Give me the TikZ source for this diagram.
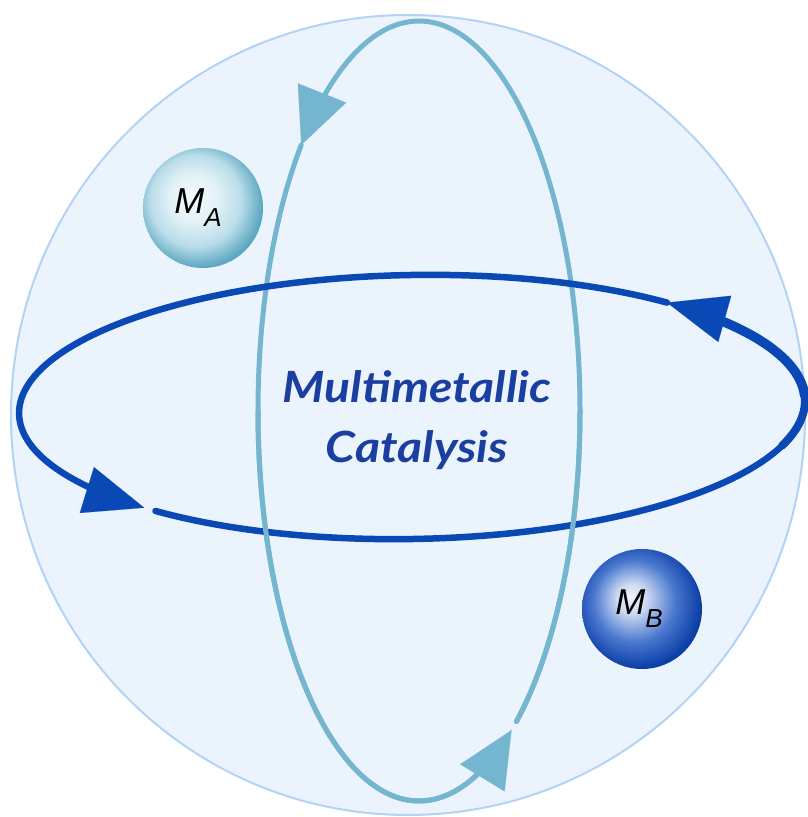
\documentclass[tikz,border=0pt]{standalone}
\usepackage{fontspec}
\usetikzlibrary{arrows.meta}
\newfontfamily\titlefont[FakeStretch=1.12]{Lato}
\newfontfamily\metalfont{Liberation Sans}

\definecolor{spherefill}{HTML}{EBF4FD}
\definecolor{sphereedge}{HTML}{B2D3F5}
\definecolor{ringdark}{HTML}{0A48B6}
\definecolor{ringlight}{HTML}{74B6CF}
\definecolor{textblue}{HTML}{1B3FA0}
\definecolor{acore}{HTML}{F4FAFC}
\definecolor{amid}{HTML}{B9DDE9}
\definecolor{arim}{HTML}{5DA7C1}
\definecolor{bcore}{HTML}{F0F4FB}
\definecolor{bmid}{HTML}{4A78CF}
\definecolor{brim}{HTML}{0B3EA6}

\pgfdeclareradialshading{ballA}{\pgfpoint{-5bp}{5bp}}{color(0bp)=(acore); color(10bp)=(acore!70!amid); color(19bp)=(amid); color(27bp)=(arim); color(50bp)=(arim)}
\pgfdeclareradialshading{ballB}{\pgfpoint{-5bp}{5bp}}{color(0bp)=(bcore); color(6bp)=(bcore!80!bmid); color(17bp)=(bmid); color(27bp)=(brim); color(50bp)=(brim)}

\begin{document}
\begin{tikzpicture}[x=1pt, y=1pt, line cap=round,
    darkring/.style={draw=ringdark, line width=6.5pt},
    lightring/.style={draw=ringlight, line width=5pt},
    darktip/.style={draw=ringdark, line width=0.1pt, -{Triangle[length=60pt, width=48pt]}},
    lighttip/.style={draw=ringlight, line width=0.1pt, -{Triangle[length=56pt, width=52pt]}},
    metal/.style={circle, minimum size=120pt, inner sep=0pt, font=\metalfont\itshape\fontsize{36}{36}\selectfont}]
    \useasboundingbox (0,0) rectangle (807,817);
    \fill[white] (0,0) rectangle (807,817);
    % the sphere
    \draw[draw=sphereedge, line width=2pt, fill=spherefill] (408,402) ellipse [x radius=397, y radius=400];
    \coordinate (hc) at (412,410);
    \coordinate (vc) at (419,406);
    % vertical ring, part behind
    \draw[lightring] (vc) ++(307.2:161pt and 390pt) arc[start angle=307.2, end angle=494, x radius=161pt, y radius=390pt];
    \draw[lightring] (vc) ++(137:161pt and 390pt) arc[start angle=137, end angle=302, x radius=161pt, y radius=390pt];
    % horizontal ring
    \begin{scope}[rotate around={1:(hc)}]
        \draw[darkring] (hc) ++(228.9:393pt and 132pt) arc[start angle=228.9, end angle=406.5, x radius=393pt, y radius=132pt];
        \draw[darkring] (hc) ++(49.2:393pt and 132pt) arc[start angle=49.2, end angle=223.5, x radius=393pt, y radius=132pt];
        \draw[darkring, line width=8pt] (hc) ++(340:393pt and 132pt) arc[start angle=340, end angle=370, x radius=393pt, y radius=132pt];
        \draw[darkring, line width=9.5pt] (hc) ++(362:393pt and 132pt) arc[start angle=362, end angle=404, x radius=393pt, y radius=132pt];
        \path (hc) ++(224.7:393pt and 132pt) coordinate (dk1) (hc) ++(226.7:393pt and 132pt) coordinate (dt1);
        \path (hc) ++(47.2:393pt and 132pt) coordinate (dk2) (hc) ++(49.2:393pt and 132pt) coordinate (dt2);
    \end{scope}
    % vertical ring, part in front
    \draw[lightring] (vc) ++(180:161pt and 390pt) arc[start angle=180, end angle=302, x radius=161pt, y radius=390pt];
    \draw[lightring] (vc) ++(307.2:161pt and 390pt) arc[start angle=307.2, end angle=360, x radius=161pt, y radius=390pt];
    \path (vc) ++(135:161pt and 390pt) coordinate (lk1) (vc) ++(137:161pt and 390pt) coordinate (lt1);
    \path (vc) ++(303:161pt and 390pt) coordinate (lk2) (vc) ++(305.1:161pt and 390pt) coordinate (lt2);
    % arrow heads
    \draw[darktip] (dk1) -- (dt1);
    \draw[darktip] (dk2) -- (dt2);
    \draw[lighttip] (lk1) -- (lt1);
    \draw[lighttip] (lk2) -- (lt2);
    % metals
    \node[metal, shading=ballA] (ma) at (203,609) {M\raisebox{-13pt}{\fontsize{26}{26}\selectfont A}\kern10pt};
    \node[metal, shading=ballB] (mb) at (642,208) {M\raisebox{-13pt}{\fontsize{26}{26}\selectfont B}\kern6pt};
    \node[align=center, text=textblue, font=\titlefont\bfseries\itshape\fontsize{43}{52}\selectfont] (title) at (417,397) {Multimetallic\\[8pt]Catalysis};
\end{tikzpicture}
\end{document}
